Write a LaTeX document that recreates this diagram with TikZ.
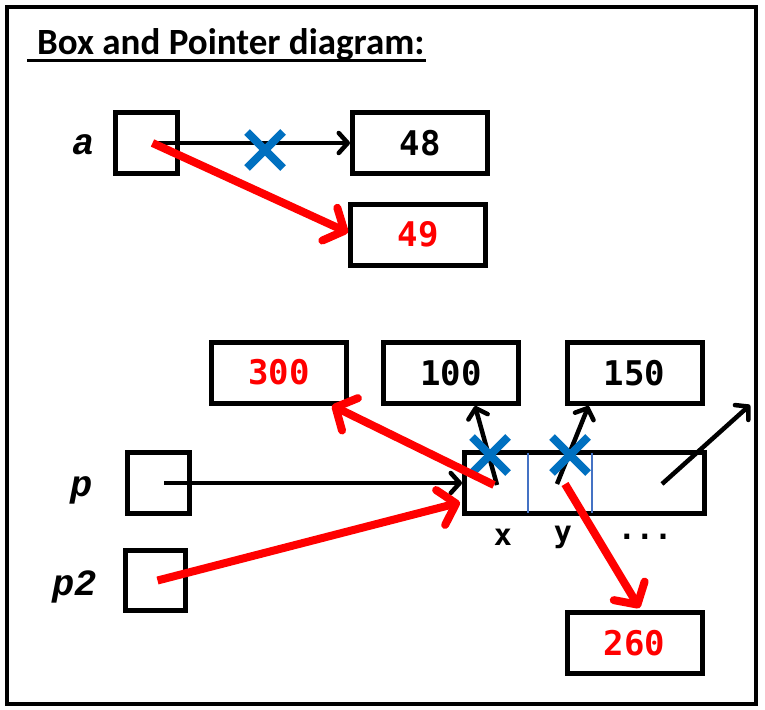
\documentclass[tikz,border=0pt]{standalone}
\usepackage{fontspec}
\setmainfont{Carlito}
\newfontfamily\monob{DejaVu Sans Mono}
\newfontfamily\courbi{Liberation Mono}
\usetikzlibrary{arrows.meta,calc}
\definecolor{xblue}{RGB}{0,112,192}
\definecolor{cellblue}{RGB}{68,114,196}
\definecolor{pred}{RGB}{255,0,0}
\tikzset{
  box/.style={draw,line width=5pt,inner sep=0pt,minimum height=61pt},
  ptr/.style={box,minimum width=62pt},
  val/.style={box,minimum width=135pt,font=\monob\bfseries\fontsize{34}{36}\selectfont},
  redval/.style={val,text=pred},
  varlbl/.style={font=\courbi\bfseries\itshape\fontsize{37}{40}\selectfont,inner sep=0pt,anchor=base},
  fieldlbl/.style={font=\monob\bfseries\fontsize{30}{32}\selectfont,inner sep=0pt},
  blk/.style={line width=4.5pt,-{Straight Barb[length=9pt,width=20pt,round]}},
  redarr/.style={draw=pred,line width=8pt,-{Straight Barb[length=16pt,width=36pt,round]}},
  xmark/.style={draw=xblue,line width=8pt}
}
\newcommand{\bigx}[1]{\draw[xmark] ($#1+(-18,-18)$) -- ($#1+(18,18)$); \draw[xmark] ($#1+(-18,18)$) -- ($#1+(18,-18)$);}
\begin{document}
\begin{tikzpicture}[x=1pt,y=-1pt]
\useasboundingbox (0,0) rectangle (765,709);
\draw[line width=4pt] (7,7) rectangle (756,704);
% title
\node[anchor=base west,inner sep=0pt,font=\bfseries\fontsize{37}{40}\selectfont] (title) at (37,55) {Box and Pointer diagram:};
\draw[line width=3pt] ($(title.base west)+(-10,6)$) -- ($(title.base east)+(1,6)$);
% top section
\node[varlbl] (la) at (84,154) {a};
\node[ptr] (a) at (146.5,143) {};
\node[val] (v48) at (420,143) {48};
\node[redval] (v49) at (418,234.5) {49};
\coordinate (acent) at ($(a.center)+(8,0)$);
\draw[blk] (acent) -- (v48.west);
\bigx{(265,150)}
\draw[redarr] ($(a.center)+(6,0)$) -- ($(v49.west)+(0,-2)$);
% bottom section
\node[redval] (v300) at (279,372.5) {300};
\node[val] (v100) at (451,373) {100};
\node[val] (v150) at (634.5,373) {150};
\node[box,minimum width=240pt] (s) at (584.5,482.5) {};
\draw[cellblue,line width=1.3pt] (528,452.5) -- (528,512.5);
\draw[cellblue,line width=1.3pt] (592,452.5) -- (592,512.5);
\node[fieldlbl] (fx) at (503,537) {x};
\node[fieldlbl] (fy) at (563,537) {y};
\node[fieldlbl] (fdots) at (645,537) {...};
\node[varlbl] (lp) at (82,496) {p};
\node[ptr] (p) at (158,483) {};
\node[varlbl] (lp2) at (75,595) {p2};
\node[ptr,minimum width=60pt,minimum height=60pt] (p2) at (155.5,580.5) {};
\node[redval] (v260) at (634.5,643) {260};
\coordinate (cx) at (497,485);
\coordinate (cy) at (557,484);
\coordinate (cz) at (662,484);
\coordinate (free) at (750,405);
\draw[blk] ($(p.center)+(6,0)$) -- (s.west |- p.center);
\draw[blk] (cx) -- ($(v100.south)+(24,0)$);
\draw[blk] (cy) -- ($(v150.south)+(-46,0)$);
\draw[blk] (cz) -- (free);
\bigx{(490,455)}
\bigx{(570,455)}
\draw[redarr] ($(p2.center)+(2,0)$) -- ($(s.west)+(-2,20)$);
\draw[redarr] ($(cx)+(-3,0)$) -- ($(v300.south)+(53,0)$);
\draw[redarr] ($(cy)+(8,0)$) -- ($(v260.north)+(5,-2)$);
\end{tikzpicture}
\end{document}
